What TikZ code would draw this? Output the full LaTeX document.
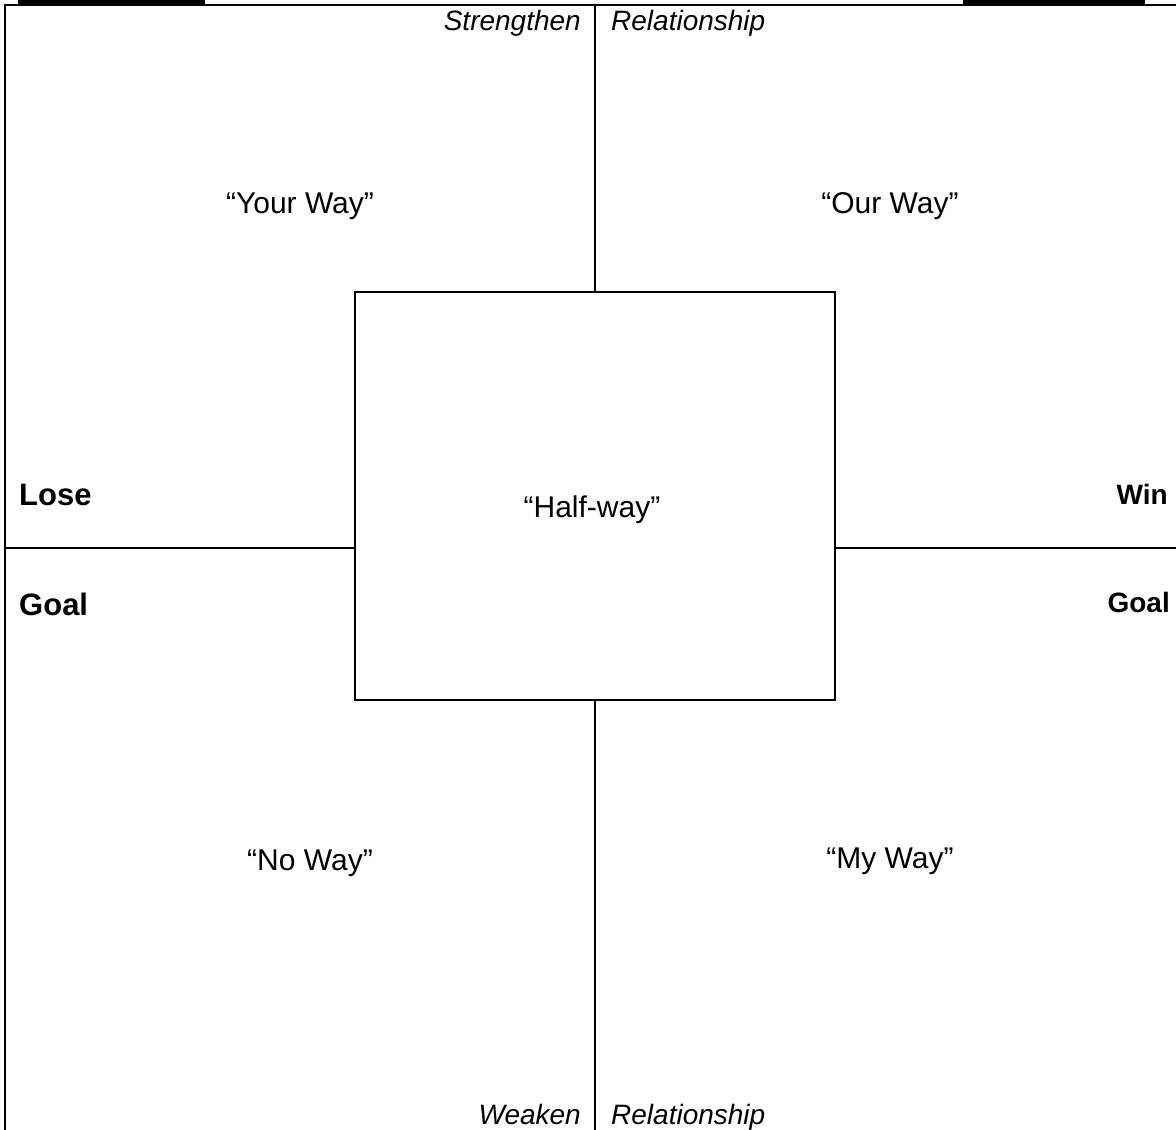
\documentclass[tikz,border=0pt]{standalone}
\usepackage{fontspec}
\setmainfont{Liberation Sans}
\begin{document}
\begin{tikzpicture}[x=1pt,y=-1pt,
  line/.style={line width=2pt,black},
  lbl/.style={inner sep=0pt,font=\fontsize{30}{34}\selectfont},
  ital/.style={inner sep=0pt,font=\fontsize{28}{32}\selectfont\itshape},
  bigbold/.style={inner sep=0pt,font=\fontsize{31}{35}\selectfont\bfseries},
  smbold/.style={inner sep=0pt,font=\fontsize{28}{32}\selectfont\bfseries}]
\useasboundingbox (0,0) rectangle (1176,1130);
% top image fragments
\fill[black] (18,0) rectangle (205,4.5);
\fill[black] (963,0) rectangle (1145,4.5);
% frame
\coordinate (tl) at (5,5);
\coordinate (tr) at (1176,5);
\coordinate (bl) at (5,1130);
\draw[line] (tr) -- (tl) -- (bl);
% center box
\node[draw,line width=2pt,minimum width=480pt,minimum height=408pt,inner sep=0pt] (box) at (595,496) {};
\coordinate (vtop) at (595,5);
\coordinate (vbot) at (595,1130);
\coordinate (hleft) at (5,548);
\coordinate (hright) at (1176,548);
\draw[line] (vtop) -- (box.north);
\draw[line] (box.south) -- (vbot);
\draw[line] (hleft) -- (box.west |- hleft);
\draw[line] (box.east |- hright) -- (hright);
% labels
\node[ital,anchor=base east] (str) at (581,30) {Strengthen};
\node[ital,anchor=base west] (rel1) at (611,30) {Relationship};
\node[ital,anchor=base east] (weak) at (581,1124) {Weaken};
\node[ital,anchor=base west] (rel2) at (611,1124) {Relationship};
\node[lbl,anchor=base] (your) at (300,213) {“Your Way”};
\node[lbl,anchor=base] (our) at (890,213) {“Our Way”};
\node[lbl,anchor=base] (half) at (592,517) {“Half-way”};
\node[lbl,anchor=base] (no) at (310,870) {“No Way”};
\node[lbl,anchor=base] (my) at (890,868) {“My Way”};
\node[bigbold,anchor=base west] (lose) at (19,505) {Lose};
\node[bigbold,anchor=base west] (goall) at (19,615) {Goal};
\node[smbold,anchor=base east] (win) at (1168,504) {Win};
\node[smbold,anchor=base east] (goalr) at (1170,612) {Goal};
\end{tikzpicture}
\end{document}
